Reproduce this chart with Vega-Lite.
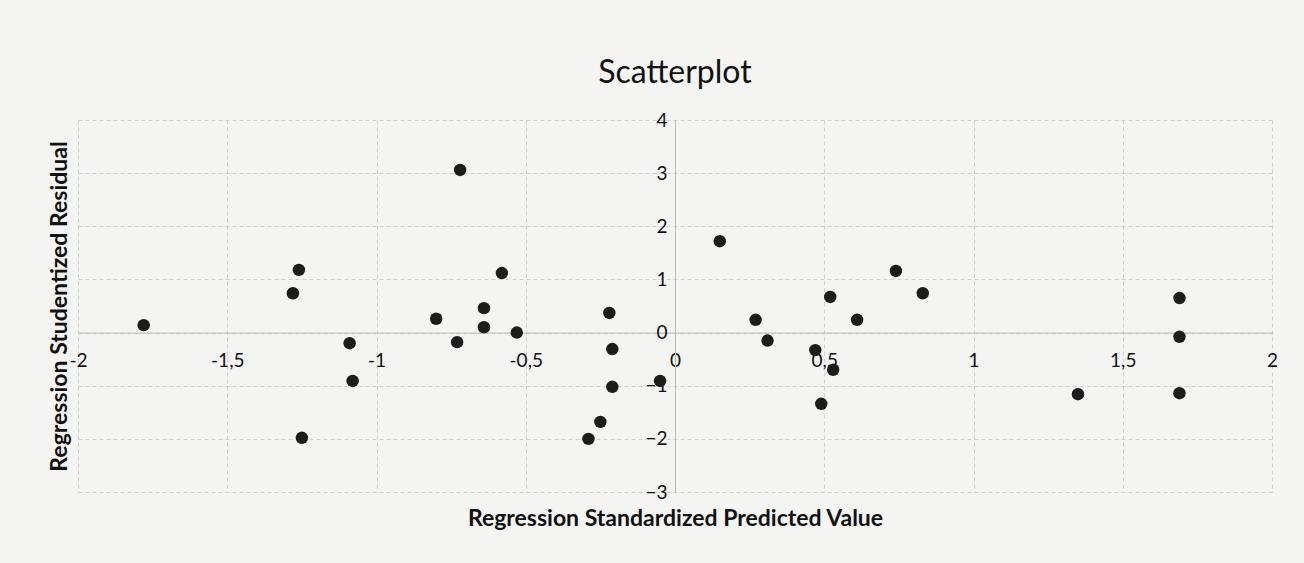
{
  "$schema": "https://vega.github.io/schema/vega-lite/v6.json",
  "width": 1194,
  "height": 372,
  "autosize": {"type": "none"},
  "padding": {"left": 78, "top": 120, "right": 32, "bottom": 71},
  "background": "#f4f4f2",
  "config": {"view": {"stroke": null}},
  "title": {
    "text": "Scatterplot",
    "font": "Lato",
    "fontSize": 32,
    "fontWeight": "normal",
    "color": "#111111",
    "frame": "group",
    "anchor": "middle",
    "baseline": "alphabetic",
    "offset": -4
  },
  "data": {
    "values": [
      {"predicted": -1.78, "residual": 0.14},
      {"predicted": -1.26, "residual": 1.18},
      {"predicted": -1.28, "residual": 0.74},
      {"predicted": -1.25, "residual": -1.98},
      {"predicted": -1.09, "residual": -0.2},
      {"predicted": -1.08, "residual": -0.91},
      {"predicted": -0.72, "residual": 3.06},
      {"predicted": -0.8, "residual": 0.26},
      {"predicted": -0.73, "residual": -0.18},
      {"predicted": -0.64, "residual": 0.46},
      {"predicted": -0.64, "residual": 0.1},
      {"predicted": -0.58, "residual": 1.12},
      {"predicted": -0.53, "residual": 0.0},
      {"predicted": -0.22, "residual": 0.37},
      {"predicted": -0.21, "residual": -0.31},
      {"predicted": -0.21, "residual": -1.02},
      {"predicted": -0.25, "residual": -1.68},
      {"predicted": -0.29, "residual": -2.0},
      {"predicted": -0.05, "residual": -0.91},
      {"predicted": 0.15, "residual": 1.72},
      {"predicted": 0.27, "residual": 0.24},
      {"predicted": 0.31, "residual": -0.15},
      {"predicted": 0.47, "residual": -0.33},
      {"predicted": 0.52, "residual": 0.67},
      {"predicted": 0.53, "residual": -0.7},
      {"predicted": 0.49, "residual": -1.34},
      {"predicted": 0.61, "residual": 0.24},
      {"predicted": 0.74, "residual": 1.16},
      {"predicted": 0.83, "residual": 0.74},
      {"predicted": 1.35, "residual": -1.16},
      {"predicted": 1.69, "residual": 0.65},
      {"predicted": 1.69, "residual": -0.08},
      {"predicted": 1.69, "residual": -1.14}
    ]
  },
  "mark": {"type": "circle", "size": 155, "color": "#1c1c1c", "opacity": 1},
  "encoding": {
    "x": {
      "field": "predicted",
      "type": "quantitative",
      "scale": {"domain": [-2, 2], "nice": false, "zero": false},
      "axis": {
        "values": [-2, -1.5, -1, -0.5, 0, 0.5, 1, 1.5, 2],
        "offset": -159.43,
        "labelExpr": "replace(toString(datum.value), '.', ',')",
        "labelFont": "Lato",
        "labelFontSize": 19,
        "labelColor": "#111111",
        "labelPadding": 19,
        "labelFlush": false,
        "labelOverlap": false,
        "tickSize": 0,
        "domainColor": "#b8b8b8",
        "domainWidth": 1,
        "grid": true,
        "gridColor": "#cfcfcf",
        "gridDash": [4, 3],
        "title": "Regression Standardized Predicted Value",
        "titleFont": "Lato",
        "titleFontSize": 23,
        "titleFontWeight": "bold",
        "titleColor": "#111111",
        "titleY": 175
      }
    },
    "y": {
      "field": "residual",
      "type": "quantitative",
      "scale": {"domain": [-3, 4], "nice": false, "zero": false},
      "axis": {
        "values": [-3, -2, -1, 0, 1, 2, 3, 4],
        "offset": -597,
        "labelFont": "Lato",
        "labelFontSize": 19,
        "labelColor": "#111111",
        "labelPadding": 8,
        "labelFlush": false,
        "labelOverlap": false,
        "tickSize": 0,
        "domainColor": "#b8b8b8",
        "domainWidth": 1,
        "grid": true,
        "gridColor": "#cfcfcf",
        "gridDash": [4, 3],
        "title": "Regression Studentized Residual",
        "titleFont": "Lato",
        "titleFontSize": 23,
        "titleFontWeight": "bold",
        "titleColor": "#111111",
        "titleX": -604
      }
    }
  }
}
